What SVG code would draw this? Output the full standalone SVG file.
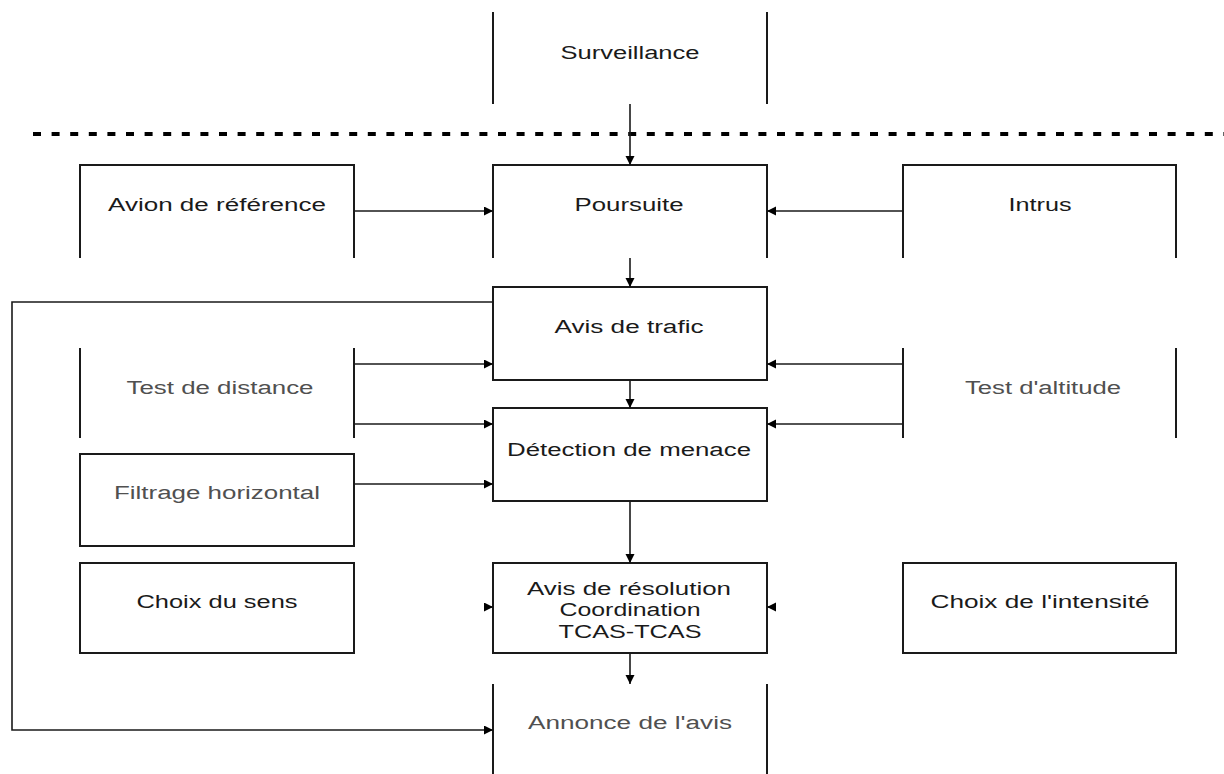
<svg xmlns="http://www.w3.org/2000/svg" width="1224" height="774" viewBox="0 0 1224 774">
  <style>
    .box { fill: none; stroke: #1a1a1a; stroke-width: 2; }
    .lbl { font-family: "Liberation Sans", Arial, sans-serif; font-size: 18px; fill: #1a1a1a; text-anchor: middle; }
    .dim { fill: #505050; }
    .conn { fill: none; stroke: #1a1a1a; stroke-width: 1.6; }
    .sep { fill: none; stroke: #000; stroke-width: 4; stroke-dasharray: 8 10.6; }
  </style>
  <defs>
    <marker id="arrow" markerUnits="userSpaceOnUse" markerWidth="10" markerHeight="10" refX="9" refY="4.5" orient="auto">
      <path d="M0,0 L9,4.5 L0,9 z" fill="#000"/>
    </marker>
  </defs>
  <rect width="1224" height="774" fill="#fff"/>

  <!-- boundary between surveillance and the on-board logic -->
  <line class="sep" x1="33" y1="134" x2="1224" y2="134"/>

  <g id="surveillance">
    <path class="box" d="M493,12 V104 M767,12 V104"/>
    <text class="lbl" x="630" y="59" textLength="139" lengthAdjust="spacingAndGlyphs">Surveillance</text>
  </g>

  <g id="avion-reference">
    <path class="box" d="M80,258 V165 H354 V258"/>
    <text class="lbl" x="217" y="211" textLength="218" lengthAdjust="spacingAndGlyphs">Avion de référence</text>
  </g>

  <g id="poursuite">
    <path class="box" d="M493,258 V165 H767 V258"/>
    <text class="lbl" x="629" y="211" textLength="109" lengthAdjust="spacingAndGlyphs">Poursuite</text>
  </g>

  <g id="intrus">
    <path class="box" d="M903,258 V165 H1176 V258"/>
    <text class="lbl" x="1040" y="211" textLength="63" lengthAdjust="spacingAndGlyphs">Intrus</text>
  </g>

  <g id="avis-trafic">
    <rect class="box" x="493" y="287" width="274" height="93"/>
    <text class="lbl" x="629" y="333" textLength="149" lengthAdjust="spacingAndGlyphs">Avis de trafic</text>
  </g>

  <g id="test-distance">
    <path class="box" d="M80,348 V438 M354,348 V438"/>
    <text class="lbl dim" x="220" y="394" textLength="187" lengthAdjust="spacingAndGlyphs">Test de distance</text>
  </g>

  <g id="test-altitude">
    <path class="box" d="M903,348 V438 M1176,348 V438"/>
    <text class="lbl dim" x="1043" y="394" textLength="156" lengthAdjust="spacingAndGlyphs">Test d'altitude</text>
  </g>

  <g id="detection-menace">
    <rect class="box" x="493" y="408" width="274" height="93"/>
    <text class="lbl" x="629" y="456" textLength="244" lengthAdjust="spacingAndGlyphs">Détection de menace</text>
  </g>

  <g id="filtrage-horizontal">
    <rect class="box" x="80" y="454" width="274" height="92"/>
    <text class="lbl dim" x="217" y="499" textLength="206" lengthAdjust="spacingAndGlyphs">Filtrage horizontal</text>
  </g>

  <g id="choix-sens">
    <rect class="box" x="80" y="563" width="274" height="90"/>
    <text class="lbl" x="217" y="608" textLength="161" lengthAdjust="spacingAndGlyphs">Choix du sens</text>
  </g>

  <g id="avis-resolution">
    <rect class="box" x="493" y="563" width="274" height="90"/>
    <text class="lbl" x="629" y="595" textLength="204" lengthAdjust="spacingAndGlyphs">Avis de résolution</text>
    <text class="lbl" x="630" y="616" textLength="141" lengthAdjust="spacingAndGlyphs">Coordination</text>
    <text class="lbl" x="630" y="638" textLength="143" lengthAdjust="spacingAndGlyphs">TCAS-TCAS</text>
  </g>

  <g id="choix-intensite">
    <rect class="box" x="903" y="563" width="273" height="90"/>
    <text class="lbl" x="1040" y="608" textLength="219" lengthAdjust="spacingAndGlyphs">Choix de l'intensité</text>
  </g>

  <g id="annonce-avis">
    <path class="box" d="M493,684 V774 M767,684 V774"/>
    <text class="lbl dim" x="630" y="729" textLength="204" lengthAdjust="spacingAndGlyphs">Annonce de l'avis</text>
  </g>

  <g id="connectors">
    <path class="conn" d="M630,104 V165" marker-end="url(#arrow)"/>
    <path class="conn" d="M354,211 H493" marker-end="url(#arrow)"/>
    <path class="conn" d="M903,211 H767" marker-end="url(#arrow)"/>
    <path class="conn" d="M630,258 V287" marker-end="url(#arrow)"/>
    <path class="conn" d="M354,364 H493" marker-end="url(#arrow)"/>
    <path class="conn" d="M354,424 H493" marker-end="url(#arrow)"/>
    <path class="conn" d="M903,364 H767" marker-end="url(#arrow)"/>
    <path class="conn" d="M903,424 H767" marker-end="url(#arrow)"/>
    <path class="conn" d="M630,380 V408" marker-end="url(#arrow)"/>
    <path class="conn" d="M354,484 H493" marker-end="url(#arrow)"/>
    <path class="conn" d="M630,501 V563" marker-end="url(#arrow)"/>
    <path class="conn" d="M484,607 H493" marker-end="url(#arrow)"/>
    <path class="conn" d="M776,607 H767" marker-end="url(#arrow)"/>
    <path class="conn" d="M630,653 V684" marker-end="url(#arrow)"/>
    <path class="conn" stroke-width="2" d="M493,302 H12 V730 H493" marker-end="url(#arrow)"/>
  </g>
</svg>
